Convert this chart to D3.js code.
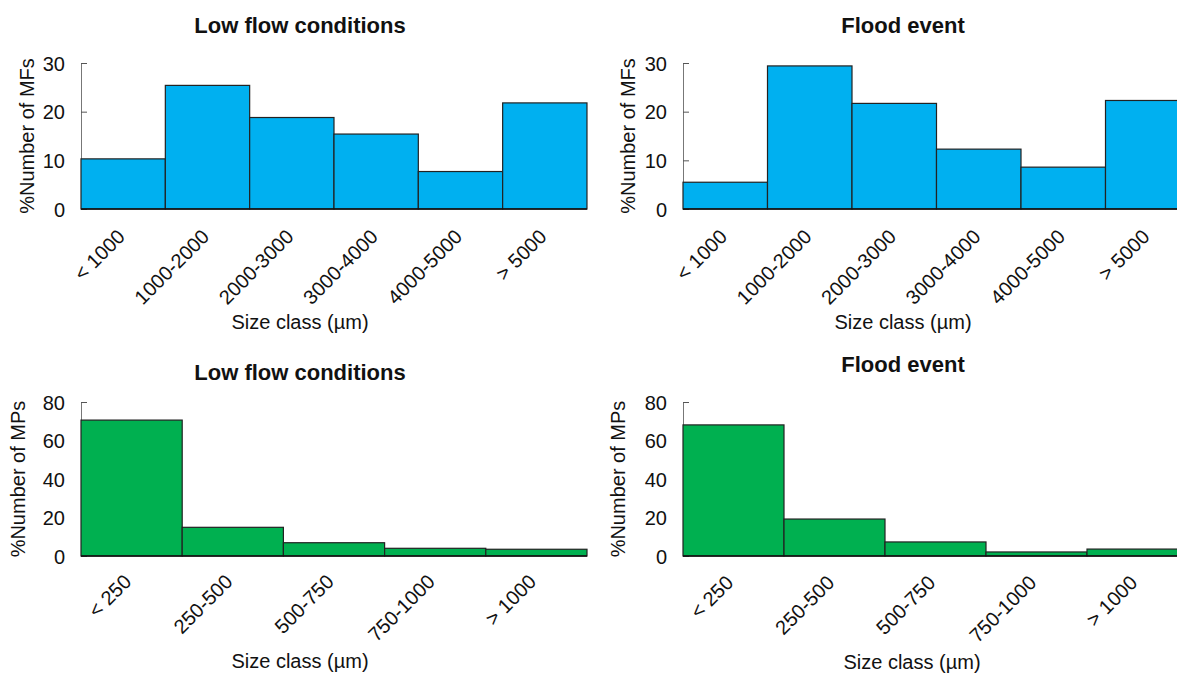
<!DOCTYPE html>
<html lang="en">
<head>
    <meta charset="UTF-8">
    <title>Size class distribution</title>
    <script src="https://d3js.org/d3.v7.min.js"></script>
    <style>
        body{ margin:0; background:#fff; }
        text{ font-family:"Liberation Sans", Arial, sans-serif; fill:#111; }
        .title{ font-size:22px; font-weight:bold; }
        .tick text{ font-size:20px; }
        .label{ font-size:20px; }
    </style>
</head>
<body>
<svg width="1177" height="673"></svg>
<script>
    // categories
    const mfClasses = ["< 1000", "1000-2000", "2000-3000", "3000-4000", "4000-5000", "> 5000"];
    const mpClasses = ["< 250", "250-500", "500-750", "750-1000", "> 1000"];
    // series values (% of particles)
    const mfLowFlow = [10.3, 25.4, 18.8, 15.4, 7.7, 21.8];
    const mfFlood   = [5.5, 29.4, 21.7, 12.3, 8.6, 22.3];
    const mpLowFlow = [70.6, 14.9, 6.9, 4.0, 3.5];
    const mpFlood   = [68.1, 19.2, 7.3, 2.1, 3.6];
    // y ticks
    const mfTicks = [0, 10, 20, 30];
    const mpTicks = [0, 20, 40, 60, 80];

    let svg = d3.select('svg');

    // panel layout
    const panels = [
        {title:"Low flow conditions", cats:mfClasses, vals:mfLowFlow, ticks:mfTicks, ylab:"%Number of MFs",
         color:"#00b0f0", x0:81, bw:84.33, top:63, base:209, titleX:300, titleY:25, ylabX:27, xlabX:300, xlabY:322, lab:[3,29]},
        {title:"Flood event", cats:mfClasses, vals:mfFlood, ticks:mfTicks, ylab:"%Number of MFs",
         color:"#00b0f0", x0:683, bw:84.5, top:63, base:209, titleX:903, titleY:25, ylabX:628, xlabX:903, xlabY:322, lab:[3,29]},
        {title:"Low flow conditions", cats:mpClasses, vals:mpLowFlow, ticks:mpTicks, ylab:"%Number of MPs",
         color:"#00b050", x0:81, bw:101.2, top:402, base:556, titleX:300, titleY:372, ylabX:18, xlabX:300, xlabY:661, lab:[1,27]},
        {title:"Flood event", cats:mpClasses, vals:mpFlood, ticks:mpTicks, ylab:"%Number of MPs",
         color:"#00b050", x0:683, bw:101, top:402, base:556, titleX:903, titleY:364, ylabX:618, xlabX:912, xlabY:662, lab:[1,28]}
    ];

    panels.forEach(drawPanel);

    function drawPanel(p){
        let g = svg.append("g");
        let xScale = d3.scaleBand()
            .domain(p.cats)
            .range([p.x0, p.x0 + p.bw * p.cats.length])
            .padding(0);
        let yScale = d3.scaleLinear()
            .domain([0, d3.max(p.ticks)])
            .range([p.base, p.top]);

        // y axis, ticks pointing inward
        let yAxis = g.append("g")
            .attr("transform", `translate(${p.x0},0)`)
            .call(d3.axisRight(yScale).tickValues(p.ticks).tickSize(6).tickSizeOuter(0));
        yAxis.select(".domain").attr("stroke", "#777");
        yAxis.selectAll(".tick line").attr("stroke", "#555");
        yAxis.selectAll(".tick text")
            .attr("x", -16)
            .attr("text-anchor", "end")
            .attr("dy", "0.36em");

        // bars
        g.selectAll("rect")
            .data(p.vals)
            .enter()
            .append("rect")
            .attr("x", (d, i) => xScale(p.cats[i]))
            .attr("y", d => yScale(d))
            .attr("width", xScale.bandwidth())
            .attr("height", d => p.base - yScale(d))
            .attr("fill", p.color)
            .attr("stroke", "#222")
            .attr("stroke-width", 1.2);

        // baseline
        g.append("line")
            .attr("x1", p.x0).attr("x2", xScale.range()[1])
            .attr("y1", p.base).attr("y2", p.base)
            .attr("stroke", "#111").attr("stroke-width", 1.5);

        // x labels (rotated)
        g.selectAll("text.xt")
            .data(p.cats)
            .enter()
            .append("text")
            .attr("class", "xt")
            .attr("text-anchor", "end")
            .style("font-size", "20px")
            .attr("transform", d => `translate(${xScale(d) + xScale.bandwidth() / 2 + p.lab[0]},${p.base + p.lab[1]}) rotate(-45)`)
            .text(d => d);

        // titles
        g.append("text")
            .attr("class", "title")
            .attr("x", p.titleX).attr("y", p.titleY)
            .attr("text-anchor", "middle")
            .attr("dy", "0.35em")
            .text(p.title);

        g.append("text")
            .attr("class", "label")
            .attr("transform", `translate(${p.ylabX},${(p.top + p.base) / 2}) rotate(-90)`)
            .attr("text-anchor", "middle")
            .attr("dy", "0.35em")
            .text(p.ylab);

        g.append("text")
            .attr("class", "label")
            .attr("x", p.xlabX).attr("y", p.xlabY)
            .attr("text-anchor", "middle")
            .attr("dy", "0.35em")
            .text("Size class (µm)");
    }
</script>
</body>
</html>
